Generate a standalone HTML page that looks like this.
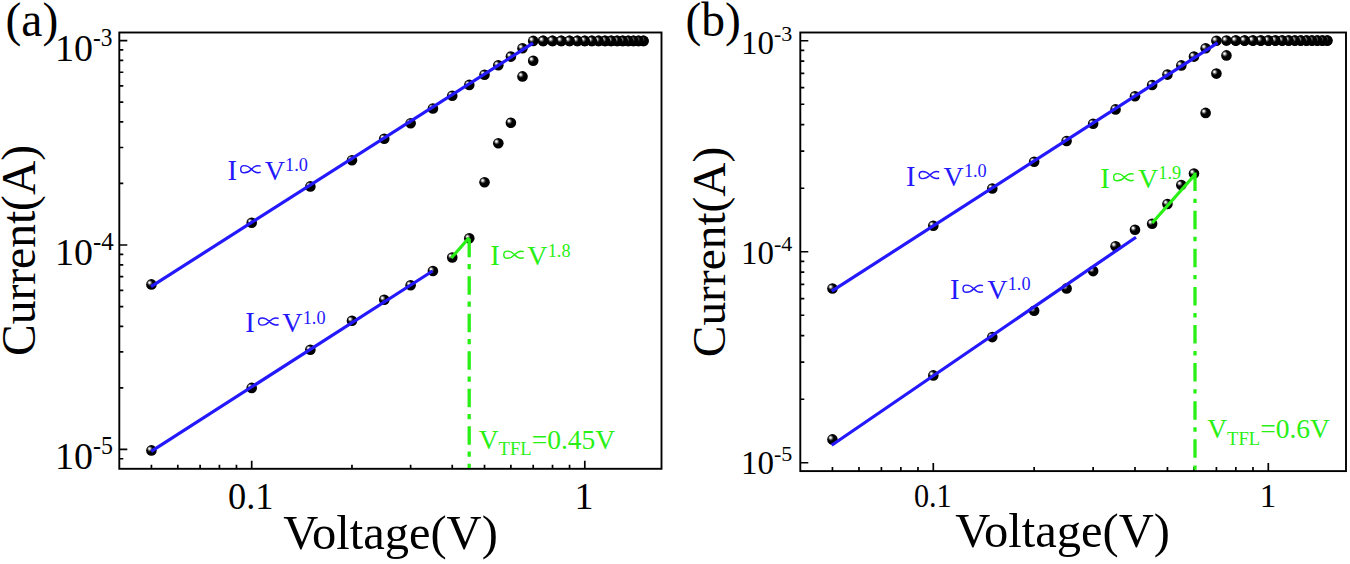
<!DOCTYPE html><html><head><meta charset="utf-8"><style>html,body{margin:0;padding:0;background:#fff;}svg{display:block;}text{font-family:"Liberation Serif",serif;}</style></head><body>
<svg width="1350" height="564" viewBox="0 0 1350 564">
<defs><radialGradient id="sph" cx="0.42" cy="0.42" r="0.62" fx="0.3" fy="0.32"><stop offset="0" stop-color="#fff"/><stop offset="0.1" stop-color="#f0f0f0"/><stop offset="0.3" stop-color="#505050"/><stop offset="0.45" stop-color="#000"/><stop offset="1" stop-color="#000"/></radialGradient></defs>
<rect width="1350" height="564" fill="#fff"/>
<rect x="119.3" y="32.5" width="542.2" height="436.3" fill="none" stroke="#000" stroke-width="1.9"/>
<path d="M119.3,40.6h8 M119.3,245h8 M119.3,183.47h4 M119.3,147.48h4 M119.3,121.94h4 M119.3,102.13h4 M119.3,85.95h4 M119.3,72.26h4 M119.3,60.41h4 M119.3,49.95h4 M119.3,449.4h8 M119.3,387.87h4 M119.3,351.88h4 M119.3,326.34h4 M119.3,306.53h4 M119.3,290.35h4 M119.3,276.66h4 M119.3,264.81h4 M119.3,254.35h4 M119.3,458.75h4 M151.43,468.8v-4 M177.8,468.8v-4 M200.1,468.8v-4 M219.42,468.8v-4 M236.46,468.8v-4 M251.7,468.8v-8 M351.97,468.8v-4 M410.63,468.8v-4 M452.25,468.8v-4 M484.53,468.8v-4 M510.9,468.8v-4 M533.2,468.8v-4 M552.52,468.8v-4 M569.56,468.8v-4 M584.8,468.8v-8" stroke="#000" stroke-width="1.7" fill="none"/>
<text x="5.5" y="35.7" font-size="47.5">(a)</text>
<text x="685.5" y="36.4" font-size="47.5">(b)</text>
<text x="55.06" y="61" font-size="38">10<tspan font-size="26" dy="-15.3" textLength="19.49" lengthAdjust="spacingAndGlyphs">-3</tspan></text>
<text x="55.06" y="265.4" font-size="38">10<tspan font-size="26" dy="-15.3" textLength="20.79" lengthAdjust="spacingAndGlyphs">-4</tspan></text>
<text x="55.06" y="469.4" font-size="38">10<tspan font-size="26" dy="-15.3" textLength="19.93" lengthAdjust="spacingAndGlyphs">-5</tspan></text>
<text x="250.7" y="508.6" font-size="38" text-anchor="middle" textLength="45.5" lengthAdjust="spacingAndGlyphs">0.1</text>
<text x="584" y="509" font-size="38" text-anchor="middle">1</text>
<text x="283.2" y="549" font-size="48.5">Voltage(V)</text>
<text transform="translate(34.9,356) rotate(-90)" x="0" y="0" font-size="47.5">Current(A)</text>
<text x="741" y="53.5" font-size="33">10<tspan font-size="22" dy="-12.8">-3</tspan></text>
<text x="741" y="263.9" font-size="33">10<tspan font-size="22" dy="-12.8">-4</tspan></text>
<text x="741" y="474.1" font-size="33">10<tspan font-size="22" dy="-12.8">-5</tspan></text>
<text x="932.8" y="506.6" font-size="33" text-anchor="middle" textLength="37.8" lengthAdjust="spacingAndGlyphs">0.1</text>
<text x="1268" y="506.6" font-size="33" text-anchor="middle">1</text>
<text x="955.3" y="546.5" font-size="48.5">Voltage(V)</text>
<text transform="translate(725.3,357.2) rotate(-90)" x="0" y="0" font-size="47.4">Current(A)</text>
<rect x="800.3" y="32.5" width="545.7" height="438.6" fill="none" stroke="#000" stroke-width="1.9"/>
<path d="M800.3,40.75h8 M800.3,251.75h8 M800.3,188.23h4 M800.3,151.08h4 M800.3,124.72h4 M800.3,104.27h4 M800.3,87.56h4 M800.3,73.43h4 M800.3,61.2h4 M800.3,50.4h4 M800.3,462.75h8 M800.3,399.23h4 M800.3,362.08h4 M800.3,335.72h4 M800.3,315.27h4 M800.3,298.56h4 M800.3,284.43h4 M800.3,272.2h4 M800.3,261.4h4 M832.45,471.1v-4 M858.98,471.1v-4 M881.41,471.1v-4 M900.84,471.1v-4 M917.97,471.1v-4 M933.3,471.1v-8 M1034.15,471.1v-4 M1093.14,471.1v-4 M1134.99,471.1v-4 M1167.45,471.1v-4 M1193.98,471.1v-4 M1216.41,471.1v-4 M1235.84,471.1v-4 M1252.97,471.1v-4 M1268.3,471.1v-8" stroke="#000" stroke-width="1.7" fill="none"/>
<circle cx="643.46" cy="40.9" r="5.3" fill="url(#sph)"/>
<circle cx="638.55" cy="40.9" r="5.3" fill="url(#sph)"/>
<circle cx="633.48" cy="40.9" r="5.3" fill="url(#sph)"/>
<circle cx="628.21" cy="40.9" r="5.3" fill="url(#sph)"/>
<circle cx="622.75" cy="40.9" r="5.3" fill="url(#sph)"/>
<circle cx="617.08" cy="40.9" r="5.3" fill="url(#sph)"/>
<circle cx="611.18" cy="40.9" r="5.3" fill="url(#sph)"/>
<circle cx="605.02" cy="40.9" r="5.3" fill="url(#sph)"/>
<circle cx="598.59" cy="40.9" r="5.3" fill="url(#sph)"/>
<circle cx="591.86" cy="40.9" r="5.3" fill="url(#sph)"/>
<circle cx="584.8" cy="40.9" r="5.3" fill="url(#sph)"/>
<circle cx="577.38" cy="40.9" r="5.3" fill="url(#sph)"/>
<circle cx="569.56" cy="40.9" r="5.3" fill="url(#sph)"/>
<circle cx="561.29" cy="40.9" r="5.3" fill="url(#sph)"/>
<circle cx="552.52" cy="40.9" r="5.3" fill="url(#sph)"/>
<circle cx="543.18" cy="40.9" r="5.3" fill="url(#sph)"/>
<circle cx="533.2" cy="60.7" r="5.3" fill="url(#sph)"/>
<circle cx="522.48" cy="76.4" r="5.3" fill="url(#sph)"/>
<circle cx="510.9" cy="122.7" r="5.3" fill="url(#sph)"/>
<circle cx="498.31" cy="143.2" r="5.3" fill="url(#sph)"/>
<circle cx="484.53" cy="182.2" r="5.3" fill="url(#sph)"/>
<circle cx="469.29" cy="238.3" r="5.3" fill="url(#sph)"/>
<circle cx="452.25" cy="257.5" r="5.3" fill="url(#sph)"/>
<circle cx="432.93" cy="271" r="5.3" fill="url(#sph)"/>
<circle cx="410.63" cy="285.3" r="5.3" fill="url(#sph)"/>
<circle cx="384.25" cy="299.7" r="5.3" fill="url(#sph)"/>
<circle cx="351.97" cy="320.8" r="5.3" fill="url(#sph)"/>
<circle cx="310.36" cy="349.8" r="5.3" fill="url(#sph)"/>
<circle cx="251.7" cy="387.9" r="5.3" fill="url(#sph)"/>
<circle cx="151.43" cy="450.4" r="5.3" fill="url(#sph)"/>
<circle cx="643.46" cy="40.9" r="5.3" fill="url(#sph)"/>
<circle cx="638.55" cy="40.9" r="5.3" fill="url(#sph)"/>
<circle cx="633.48" cy="40.9" r="5.3" fill="url(#sph)"/>
<circle cx="628.21" cy="40.9" r="5.3" fill="url(#sph)"/>
<circle cx="622.75" cy="40.9" r="5.3" fill="url(#sph)"/>
<circle cx="617.08" cy="40.9" r="5.3" fill="url(#sph)"/>
<circle cx="611.18" cy="40.9" r="5.3" fill="url(#sph)"/>
<circle cx="605.02" cy="40.9" r="5.3" fill="url(#sph)"/>
<circle cx="598.59" cy="40.9" r="5.3" fill="url(#sph)"/>
<circle cx="591.86" cy="40.9" r="5.3" fill="url(#sph)"/>
<circle cx="584.8" cy="40.9" r="5.3" fill="url(#sph)"/>
<circle cx="577.38" cy="40.9" r="5.3" fill="url(#sph)"/>
<circle cx="569.56" cy="40.9" r="5.3" fill="url(#sph)"/>
<circle cx="561.29" cy="40.9" r="5.3" fill="url(#sph)"/>
<circle cx="552.52" cy="40.9" r="5.3" fill="url(#sph)"/>
<circle cx="543.18" cy="40.9" r="5.3" fill="url(#sph)"/>
<circle cx="533.2" cy="40.9" r="5.3" fill="url(#sph)"/>
<circle cx="522.48" cy="48.3" r="5.3" fill="url(#sph)"/>
<circle cx="510.9" cy="56.6" r="5.3" fill="url(#sph)"/>
<circle cx="498.31" cy="65.3" r="5.3" fill="url(#sph)"/>
<circle cx="484.53" cy="74.7" r="5.3" fill="url(#sph)"/>
<circle cx="469.29" cy="84.9" r="5.3" fill="url(#sph)"/>
<circle cx="452.25" cy="95.7" r="5.3" fill="url(#sph)"/>
<circle cx="432.93" cy="108.5" r="5.3" fill="url(#sph)"/>
<circle cx="410.63" cy="123.2" r="5.3" fill="url(#sph)"/>
<circle cx="384.25" cy="138.8" r="5.3" fill="url(#sph)"/>
<circle cx="351.97" cy="160.2" r="5.3" fill="url(#sph)"/>
<circle cx="310.36" cy="186.4" r="5.3" fill="url(#sph)"/>
<circle cx="251.7" cy="222.8" r="5.3" fill="url(#sph)"/>
<circle cx="151.43" cy="284.4" r="5.3" fill="url(#sph)"/>
<circle cx="1327.29" cy="40.6" r="5.3" fill="url(#sph)"/>
<circle cx="1322.36" cy="40.6" r="5.3" fill="url(#sph)"/>
<circle cx="1317.25" cy="40.6" r="5.3" fill="url(#sph)"/>
<circle cx="1311.96" cy="40.6" r="5.3" fill="url(#sph)"/>
<circle cx="1306.47" cy="40.6" r="5.3" fill="url(#sph)"/>
<circle cx="1300.76" cy="40.6" r="5.3" fill="url(#sph)"/>
<circle cx="1294.83" cy="40.6" r="5.3" fill="url(#sph)"/>
<circle cx="1288.63" cy="40.6" r="5.3" fill="url(#sph)"/>
<circle cx="1282.17" cy="40.6" r="5.3" fill="url(#sph)"/>
<circle cx="1275.4" cy="40.6" r="5.3" fill="url(#sph)"/>
<circle cx="1268.3" cy="40.6" r="5.3" fill="url(#sph)"/>
<circle cx="1260.84" cy="40.6" r="5.3" fill="url(#sph)"/>
<circle cx="1252.97" cy="40.6" r="5.3" fill="url(#sph)"/>
<circle cx="1244.66" cy="40.6" r="5.3" fill="url(#sph)"/>
<circle cx="1235.84" cy="40.6" r="5.3" fill="url(#sph)"/>
<circle cx="1226.45" cy="55.4" r="5.3" fill="url(#sph)"/>
<circle cx="1216.41" cy="73.6" r="5.3" fill="url(#sph)"/>
<circle cx="1205.63" cy="112.9" r="5.3" fill="url(#sph)"/>
<circle cx="1193.98" cy="173.5" r="5.3" fill="url(#sph)"/>
<circle cx="1181.32" cy="185" r="5.3" fill="url(#sph)"/>
<circle cx="1167.45" cy="204" r="5.3" fill="url(#sph)"/>
<circle cx="1152.13" cy="223.8" r="5.3" fill="url(#sph)"/>
<circle cx="1134.99" cy="229.8" r="5.3" fill="url(#sph)"/>
<circle cx="1115.56" cy="246.2" r="5.3" fill="url(#sph)"/>
<circle cx="1093.14" cy="271.1" r="5.3" fill="url(#sph)"/>
<circle cx="1066.61" cy="288.4" r="5.3" fill="url(#sph)"/>
<circle cx="1034.15" cy="310.7" r="5.3" fill="url(#sph)"/>
<circle cx="992.29" cy="337.1" r="5.3" fill="url(#sph)"/>
<circle cx="933.3" cy="375.4" r="5.3" fill="url(#sph)"/>
<circle cx="832.45" cy="439.4" r="5.3" fill="url(#sph)"/>
<circle cx="1327.29" cy="40.6" r="5.3" fill="url(#sph)"/>
<circle cx="1322.36" cy="40.6" r="5.3" fill="url(#sph)"/>
<circle cx="1317.25" cy="40.6" r="5.3" fill="url(#sph)"/>
<circle cx="1311.96" cy="40.6" r="5.3" fill="url(#sph)"/>
<circle cx="1306.47" cy="40.6" r="5.3" fill="url(#sph)"/>
<circle cx="1300.76" cy="40.6" r="5.3" fill="url(#sph)"/>
<circle cx="1294.83" cy="40.6" r="5.3" fill="url(#sph)"/>
<circle cx="1288.63" cy="40.6" r="5.3" fill="url(#sph)"/>
<circle cx="1282.17" cy="40.6" r="5.3" fill="url(#sph)"/>
<circle cx="1275.4" cy="40.6" r="5.3" fill="url(#sph)"/>
<circle cx="1268.3" cy="40.6" r="5.3" fill="url(#sph)"/>
<circle cx="1260.84" cy="40.6" r="5.3" fill="url(#sph)"/>
<circle cx="1252.97" cy="40.6" r="5.3" fill="url(#sph)"/>
<circle cx="1244.66" cy="40.6" r="5.3" fill="url(#sph)"/>
<circle cx="1235.84" cy="40.6" r="5.3" fill="url(#sph)"/>
<circle cx="1226.45" cy="40.6" r="5.3" fill="url(#sph)"/>
<circle cx="1216.41" cy="40.8" r="5.3" fill="url(#sph)"/>
<circle cx="1205.63" cy="48.3" r="5.3" fill="url(#sph)"/>
<circle cx="1193.98" cy="56.6" r="5.3" fill="url(#sph)"/>
<circle cx="1181.32" cy="65.4" r="5.3" fill="url(#sph)"/>
<circle cx="1167.45" cy="74.6" r="5.3" fill="url(#sph)"/>
<circle cx="1152.13" cy="85" r="5.3" fill="url(#sph)"/>
<circle cx="1134.99" cy="96.3" r="5.3" fill="url(#sph)"/>
<circle cx="1115.56" cy="109.4" r="5.3" fill="url(#sph)"/>
<circle cx="1093.14" cy="123.8" r="5.3" fill="url(#sph)"/>
<circle cx="1066.61" cy="141" r="5.3" fill="url(#sph)"/>
<circle cx="1034.15" cy="161.8" r="5.3" fill="url(#sph)"/>
<circle cx="992.29" cy="188.5" r="5.3" fill="url(#sph)"/>
<circle cx="933.3" cy="225.7" r="5.3" fill="url(#sph)"/>
<circle cx="832.45" cy="288.5" r="5.3" fill="url(#sph)"/>
<line x1="151" y1="286.6" x2="533" y2="43.2" stroke="#2418fc" stroke-width="3.2"/>
<line x1="151.2" y1="451.4" x2="432.6" y2="271.0" stroke="#2418fc" stroke-width="3.2"/>
<line x1="831.8" y1="291.2" x2="1217.6" y2="42.8" stroke="#2418fc" stroke-width="3.2"/>
<line x1="831.7" y1="445.2" x2="1136.0" y2="237.2" stroke="#2418fc" stroke-width="3.2"/>
<line x1="451.3" y1="258" x2="469.1" y2="237.7" stroke="#28f014" stroke-width="3.2"/>
<line x1="1152.2" y1="223" x2="1195.3" y2="174.2" stroke="#28f014" stroke-width="3.2"/>
<line x1="469.2" y1="238.7" x2="469.2" y2="468" stroke="#28f014" stroke-width="3.3" stroke-dasharray="18.5 6.8 5.3 6.9"/>
<line x1="1195" y1="172.6" x2="1195" y2="470.5" stroke="#28f014" stroke-width="3.3" stroke-dasharray="18.5 7.6 4.4 7.6"/>
<text x="227.5" y="179.8" font-size="28.6" fill="#2418fc">I</text>
<path transform="translate(239.9,169.2)" d="M20.8,-3.0 C17.2,-4.5 14.4,-3.1 11.6,0 C8.8,3.0 6.7,3.6 4.3,3.6 C2.0,3.6 0.8,1.9 0.8,0 C0.8,-1.9 2.0,-3.6 4.3,-3.6 C6.7,-3.6 8.8,-3.0 11.6,0 C14.4,3.1 17.2,4.5 20.8,3.0" fill="none" stroke="#2418fc" stroke-width="1.45"/>
<text x="264.7" y="179.8" font-size="28" fill="#2418fc">V</text>
<text x="285" y="170.7" font-size="18.3" fill="#2418fc">1.0</text>
<text x="245.3" y="332" font-size="28.6" fill="#2418fc">I</text>
<path transform="translate(257.8,321.5)" d="M20.8,-3.0 C17.2,-4.5 14.4,-3.1 11.6,0 C8.8,3.0 6.7,3.6 4.3,3.6 C2.0,3.6 0.8,1.9 0.8,0 C0.8,-1.9 2.0,-3.6 4.3,-3.6 C6.7,-3.6 8.8,-3.0 11.6,0 C14.4,3.1 17.2,4.5 20.8,3.0" fill="none" stroke="#2418fc" stroke-width="1.45"/>
<text x="282.3" y="332" font-size="28" fill="#2418fc">V</text>
<text x="302.7" y="323.6" font-size="18.3" fill="#2418fc">1.0</text>
<text x="490.3" y="265.3" font-size="28.6" fill="#28f014">I</text>
<path transform="translate(503,254.7)" d="M20.8,-3.0 C17.2,-4.5 14.4,-3.1 11.6,0 C8.8,3.0 6.7,3.6 4.3,3.6 C2.0,3.6 0.8,1.9 0.8,0 C0.8,-1.9 2.0,-3.6 4.3,-3.6 C6.7,-3.6 8.8,-3.0 11.6,0 C14.4,3.1 17.2,4.5 20.8,3.0" fill="none" stroke="#28f014" stroke-width="1.45"/>
<text x="527.3" y="265.3" font-size="28" fill="#28f014">V</text>
<text x="547.7" y="256.8" font-size="18.3" fill="#28f014">1.8</text>
<text x="906" y="185.5" font-size="28.6" fill="#2418fc">I</text>
<path transform="translate(918.4,175)" d="M20.8,-3.0 C17.2,-4.5 14.4,-3.1 11.6,0 C8.8,3.0 6.7,3.6 4.3,3.6 C2.0,3.6 0.8,1.9 0.8,0 C0.8,-1.9 2.0,-3.6 4.3,-3.6 C6.7,-3.6 8.8,-3.0 11.6,0 C14.4,3.1 17.2,4.5 20.8,3.0" fill="none" stroke="#2418fc" stroke-width="1.45"/>
<text x="943.4" y="185.5" font-size="28" fill="#2418fc">V</text>
<text x="963.9" y="176.7" font-size="18.3" fill="#2418fc">1.0</text>
<text x="949.9" y="298.9" font-size="28.6" fill="#2418fc">I</text>
<path transform="translate(962.2,288.7)" d="M20.8,-3.0 C17.2,-4.5 14.4,-3.1 11.6,0 C8.8,3.0 6.7,3.6 4.3,3.6 C2.0,3.6 0.8,1.9 0.8,0 C0.8,-1.9 2.0,-3.6 4.3,-3.6 C6.7,-3.6 8.8,-3.0 11.6,0 C14.4,3.1 17.2,4.5 20.8,3.0" fill="none" stroke="#2418fc" stroke-width="1.45"/>
<text x="987.3" y="298.9" font-size="28" fill="#2418fc">V</text>
<text x="1007.7" y="290" font-size="18.3" fill="#2418fc">1.0</text>
<text x="1100.2" y="187.6" font-size="28.6" fill="#28f014">I</text>
<path transform="translate(1112.9,177.2)" d="M20.8,-3.0 C17.2,-4.5 14.4,-3.1 11.6,0 C8.8,3.0 6.7,3.6 4.3,3.6 C2.0,3.6 0.8,1.9 0.8,0 C0.8,-1.9 2.0,-3.6 4.3,-3.6 C6.7,-3.6 8.8,-3.0 11.6,0 C14.4,3.1 17.2,4.5 20.8,3.0" fill="none" stroke="#28f014" stroke-width="1.45"/>
<text x="1137.9" y="187.6" font-size="28" fill="#28f014">V</text>
<text x="1158.3" y="178.9" font-size="18.3" fill="#28f014">1.9</text>
<text x="478.7" y="449" font-size="27.5" fill="#28f014">V<tspan font-size="18.6" dy="6.2">TFL</tspan><tspan dy="-6.2">=0.45V</tspan></text>
<text x="1207.2" y="438.3" font-size="27.5" fill="#28f014">V<tspan font-size="18.6" dy="6.4">TFL</tspan><tspan dy="-6.4">=0.6V</tspan></text>
</svg></body></html>
